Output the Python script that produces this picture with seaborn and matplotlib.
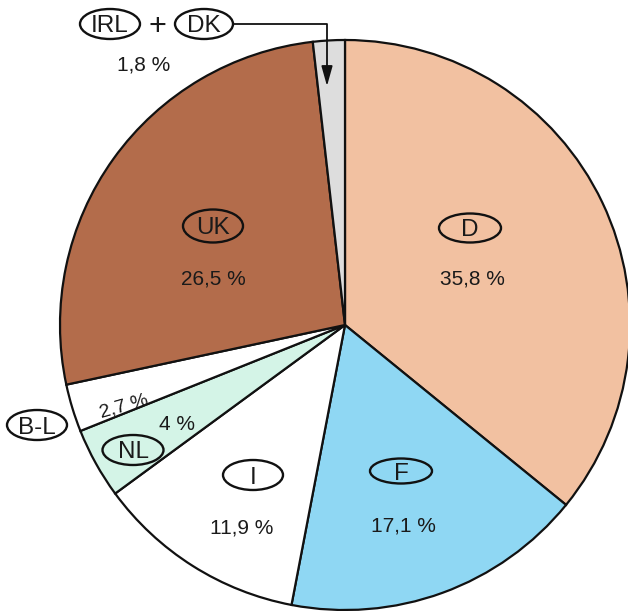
import numpy as np
import seaborn as sns
import matplotlib.pyplot as plt
from matplotlib.patches import Ellipse

# shares, clockwise from 12 o'clock
countries = ['D', 'F', 'I', 'NL', 'B-L', 'UK', 'IRL+DK']
shares = [35.8, 17.1, 11.9, 4.0, 2.7, 26.5, 1.8]
pct_labels = ['35,8 %', '17,1 %', '11,9 %', '4 %', '2,7 %', '26,5 %', '1,8 %']
colors = ['#F2C1A1', '#8FD7F3', '#FFFFFF', '#D4F4E7', '#FFFFFF', '#B36C4B', '#DDDDDD']

W, H = 628, 611

sns.set_theme(style='white')
plt.rcParams['font.family'] = ['Liberation Sans', 'DejaVu Sans']

fig = plt.figure(figsize=(W / 100, H / 100), dpi=100)
ax = fig.add_axes([0, 0, 1, 1])

def Y(y):
    # image pixel row -> data y
    return H - y

ax.pie(shares, colors=colors, startangle=90, counterclock=False,
       center=(345, Y(325)), radius=285, frame=True,
       wedgeprops=dict(edgecolor='#111111', linewidth=1.6))
ax.set_xlim(0, W)
ax.set_ylim(0, H)
ax.set_aspect('equal')
ax.axis('off')

txt = '#1a1a1a'

# country tags: centre (x, y in image pixels), ellipse width, height
tags = {'D': (470, 228, 62, 29), 'F': (401, 471, 62, 25), 'I': (253, 475, 60, 30),
        'NL': (133, 450, 61, 30), 'B-L': (37, 425, 60, 30), 'UK': (213, 226, 60, 33),
        'IRL': (110, 24, 60, 30), 'DK': (204, 24, 58, 30)}
pct_pos = {'D': (472, 277), 'F': (403, 524), 'I': (242, 526), 'NL': (177, 423),
           'B-L': (124, 398), 'UK': (213, 277), 'IRL+DK': (144, 63)}

for name, (x, y, w, h) in tags.items():
    ax.add_patch(Ellipse((x, Y(y)), w, h, fc='none', ec='#111111', lw=1.7, zorder=5))
    ax.text(x, Y(y), name, fontsize=17.5, ha='center', va='center_baseline',
            color=txt, zorder=6)

ax.text(157, Y(24), '+', fontsize=22, ha='center', va='center_baseline', color=txt)

for name, lab in zip(countries, pct_labels):
    x, y = pct_pos[name]
    rot = 16 if name == 'B-L' else 0
    size = 14 if name == 'B-L' else 15
    ax.text(x, Y(y), lab, fontsize=size, ha='center', va='center_baseline',
            color=txt, rotation=rot)

ax.annotate('', xy=(327, Y(86)), xytext=(234, Y(24)),
            arrowprops=dict(arrowstyle='-|>,head_length=1.0,head_width=0.28',
                            connectionstyle='angle,angleA=0,angleB=90,rad=0',
                            color='#111111', lw=1.3, shrinkA=0, shrinkB=0))

fig.savefig('out.png', dpi=100)
